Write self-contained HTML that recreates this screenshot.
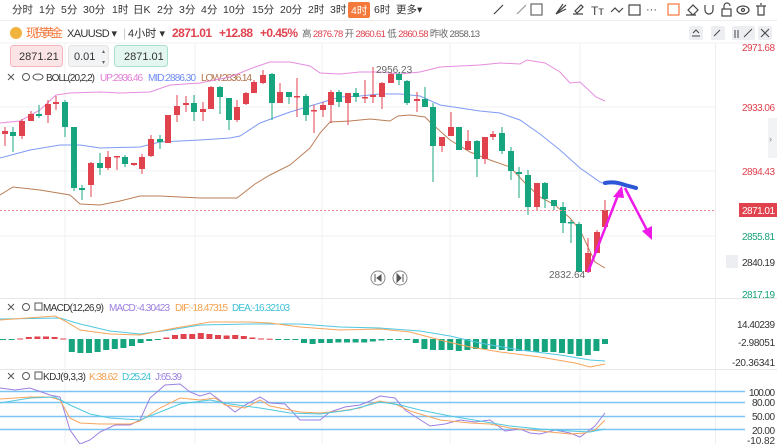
<!DOCTYPE html>
<html><head><meta charset="utf-8"><style>
*{margin:0;padding:0;box-sizing:border-box}
body{width:777px;height:444px;overflow:hidden;background:#fff;font-family:"Liberation Sans","Noto Sans CJK SC",sans-serif;position:relative}
</style></head><body>
<svg width="777" height="444" style="position:absolute;left:0;top:0" font-family="Liberation Sans, Noto Sans CJK SC, sans-serif">
<line x1="0" y1="20.5" x2="777" y2="20.5" stroke="#eee"/>
<g font-size="10.5" fill="#333">
<text x="12" y="13">分时</text><text x="39" y="13">1分</text><text x="61" y="13">5分</text><text x="83" y="13">30分</text><text x="112" y="13">1时</text><text x="133" y="13">日K</text><text x="157" y="13">2分</text><text x="179" y="13">3分</text><text x="201" y="13">4分</text><text x="223" y="13">10分</text><text x="252" y="13">15分</text><text x="280" y="13">20分</text><text x="308" y="13">2时</text><text x="330" y="13">3时</text>
<rect x="348" y="2" width="22" height="16" rx="2" fill="#f5793b"/><text x="351" y="14" fill="#fff">4时</text>
<text x="374" y="13">6时</text><text x="396" y="13">更多▾</text>
</g>
<g stroke="#444" fill="none" stroke-width="1.2">
<line x1="494" y1="14" x2="503" y2="5"/><line x1="517" y1="14" x2="526" y2="5" stroke="#999"/>
<rect x="531" y="4" width="11" height="11" stroke="#666"/>
<path d="M556 14 L566 5 M556 14 L566 9 M556 14 L563 4"/>
<path d="M573 14 h10 M575 11 l6 -6 2 2 -6 6z"/>
<text x="591" y="15" font-size="12" fill="#444" stroke="none">Tт</text>
<path d="M611 12 l4 -4 4 4 4 -4"/>
<rect x="629" y="5" width="11" height="10"/>
<text x="646" y="13" font-size="11" fill="#444" stroke="none">···</text>
<rect x="668" y="4" width="11" height="11" stroke="#f5793b"/>
<path d="M688 10 l5 -5 5 5 -5 5z M686 15 h10"/>
<path d="M705 5 v5 a4 4 0 0 0 8 0 v-5"/>
<rect x="722" y="9" width="9" height="7"/><path d="M724 9 v-3 a3 3 0 0 1 6 0"/>
<ellipse cx="743" cy="10" rx="6" ry="4"/><circle cx="743" cy="10" r="1.5"/>
<path d="M756 6 h10 M758 6 v9 h6 v-9 M760 4 h2"/>
</g>
<circle cx="16" cy="33" r="6" fill="#f2b33d"/>
<text x="26" y="37" font-size="12" fill="#f5793b" textLength="37">现货黄金</text>
<text x="67" y="37" font-size="11" fill="#333" textLength="50">XAUUSD ▾</text>
<text x="123" y="37" font-size="12" fill="#ccc">|</text>
<text x="128" y="37" font-size="11" fill="#333" textLength="37">4小时 ▾</text>
<text x="172" y="37" font-size="12" font-weight="bold" fill="#e0424e" textLength="40">2871.01</text>
<text x="219" y="37" font-size="12" font-weight="bold" fill="#e0424e" textLength="34">+12.88</text>
<text x="260" y="37" font-size="12" font-weight="bold" fill="#e0424e" textLength="38">+0.45%</text>
<text x="302" y="37" font-size="9.5" fill="#666" textLength="178">高 <tspan fill="#e0424e">2876.78</tspan> 开 <tspan fill="#e0424e">2860.61</tspan> 低 <tspan fill="#e0424e">2860.58</tspan> 昨收 2858.13</text>
<g fill="#eceef1"><rect x="689" y="26" width="14" height="14" rx="2"/><rect x="711" y="26" width="14" height="14" rx="2"/><rect x="732" y="26" width="14" height="14" rx="2"/><rect x="741" y="26" width="14" height="14" rx="2"/><rect x="758" y="26" width="14" height="14" rx="2"/></g>
<g stroke="#444" fill="none"><path d="M692 36 h8 M693 33 l3 -3 3 3"/><path d="M714 36 l6 -6"/><path d="M735 30 v8 M738 30 v8"/><path d="M744 37 l8 -8"/><path d="M761 29 l8 8 M769 29 l-8 8"/></g>
<rect x="10.5" y="45.5" width="52" height="21" rx="3" fill="#fbe4e6" stroke="#f3b7bd"/>
<text x="19" y="60" font-size="11" fill="#333">2871.21</text>
<rect x="68.5" y="45.5" width="40" height="21" rx="3" fill="#f2f3f5" stroke="#e3e3e3"/>
<text x="74" y="60" font-size="11" fill="#333">0.01</text><text x="102" y="53" font-size="6" fill="#666">▴</text><text x="102" y="64" font-size="6" fill="#666">▾</text>
<rect x="114.5" y="45.5" width="53" height="21" rx="3" fill="#e3f6ef" stroke="#a8e0c9"/>
<text x="124" y="60" font-size="11" fill="#333">2871.01</text>
<g stroke="#f0f0f0">
<line x1="65" y1="43" x2="65" y2="444"/><line x1="195" y1="43" x2="195" y2="444"/><line x1="322" y1="43" x2="322" y2="444"/><line x1="450" y1="43" x2="450" y2="444"/><line x1="580" y1="43" x2="580" y2="444"/>
<line x1="0" y1="107" x2="715" y2="107"/><line x1="0" y1="171" x2="715" y2="171"/><line x1="0" y1="236" x2="715" y2="236"/>
<line x1="0" y1="43" x2="777" y2="43"/>
</g>
<line x1="0" y1="298.5" x2="777" y2="298.5" stroke="#e6e6e6"/>
<line x1="0" y1="369.5" x2="777" y2="369.5" stroke="#e6e6e6"/>
<line x1="715.5" y1="43" x2="715.5" y2="444" stroke="#eee"/>
<g stroke="#555" fill="none"><path d="M8 74 l6 6 M14 74 l-6 6"/><circle cx="26" cy="77" r="3.5"/><ellipse cx="38" cy="77" rx="5" ry="3"/></g>
<g font-size="10">
<text x="46" y="81" fill="#333" textLength="49">BOLL(20,2,2)</text>
<text x="100" y="81" fill="#e07ed8" textLength="43">UP:2936.46</text>
<text x="148" y="81" fill="#6f8cf5" textLength="48">MID:2886.30</text>
<text x="201" y="81" fill="#b27049" textLength="51">LOW:2836.14</text>
</g>
<polyline fill="none" stroke="#e58ddf" points="0,123 20,121 40,110 56,95 70,93 100,92 120,93 150,92 170,85 200,83 230,77 255,67 270,62 290,62 310,66 320,73 340,74 360,72 380,72 400,74 420,72 440,67 460,66 480,65 500,63 520,64 527,60 545,63 560,72 570,83 580,82 596,97 605,101"/>
<polyline fill="none" stroke="#7f9af5" points="0,158 30,150 60,145 80,145 100,148 140,147 160,142 200,140 230,138 240,136 260,123 290,112 310,106 320,103 340,97 360,96 380,94 400,94 420,96 440,105 480,111 500,113 520,120 540,134 560,150 580,168 600,182 605,184"/>
<polyline fill="none" stroke="#bb7e58" points="0,195 13,187 40,190 70,195 80,204 100,205 120,201 140,196 160,196 200,198 237,198 255,184 270,175 290,165 310,148 320,133 330,122 350,121 370,119 390,121 398,116 410,115 425,117 430,122 450,140 470,152 490,160 510,167 525,183 540,197 555,205 570,218 580,230 595,262 605,268"/>
<g id="candles"></g>
<text x="376" y="73" font-size="10" fill="#666">2956.23</text>
<text x="549" y="278" font-size="10" fill="#666">2832.64</text>
<line x1="0" y1="210.5" x2="715" y2="210.5" stroke="#f08a90" stroke-dasharray="2,2"/>
<path d="M605 183 Q615 181 625 185 L636 188" stroke="#2d56d6" stroke-width="4" fill="none" stroke-linecap="round"/>
<path d="M588 272 L620 190 M625 188 L650 236" stroke="#ee1be8" stroke-width="2.5" fill="none"/>
<path d="M622 186 L613 197 L624 198z M652 240 L642 231 L652 226z" fill="#ee1be8"/>
<g stroke="#888" fill="#fff"><circle cx="378" cy="278" r="7"/><circle cx="400" cy="278" r="7"/></g>
<path d="M375 274 v8 M377 278 l4 -3 v6z M397 274 l4 4 -4 4z M403 274 v8" stroke="#555" fill="#555"/>
<g font-size="10" text-anchor="end">
<text x="775" y="51" fill="#e0424e" textLength="33">2971.68</text>
<text x="775" y="111" fill="#e0424e" textLength="33">2933.06</text>
<text x="775" y="175" fill="#e0424e" textLength="33">2894.43</text>
<rect x="739" y="203" width="38" height="14" fill="#e0424e"/><text x="775" y="214" fill="#fff" textLength="33">2871.01</text>
<text x="775" y="240" fill="#19a27b" textLength="33">2855.81</text>
<rect x="726" y="255" width="12" height="13" fill="#eceef1"/><text x="775" y="266" fill="#333" textLength="33">2840.19</text>
<text x="775" y="298" fill="#19a27b" textLength="33">2817.19</text>
<text x="775" y="328" fill="#333" textLength="38">14.40239</text>
<text x="775" y="346" fill="#333" textLength="37">-2.98051</text>
<text x="775" y="366" fill="#333" textLength="43">-20.36341</text>
<text x="775" y="396" fill="#333" textLength="26">100.00</text>
<text x="775" y="406" fill="#333" textLength="23">80.00</text>
<text x="775" y="420" fill="#333" textLength="23">50.00</text>
<text x="775" y="434" fill="#333" textLength="23">20.00</text>
<text x="775" y="444" fill="#333" textLength="28">-10.82</text>
</g>
<rect x="768" y="118" width="9" height="40" fill="#f2f3f5"/><text x="769" y="142" font-size="9" fill="#888">›</text>
<g stroke="#555" fill="none"><path d="M8 304 l6 6 M14 304 l-6 6"/><circle cx="26" cy="307" r="3.5"/><rect x="35" y="303" width="7" height="7"/></g>
<g font-size="10">
<text x="43" y="311" fill="#333" textLength="61">MACD(12,26,9)</text>
<text x="109" y="311" fill="#9b7fe0" textLength="61">MACD:-4.30423</text>
<text x="175" y="311" fill="#f5a04e" textLength="53">DIF:-18.47315</text>
<text x="232" y="311" fill="#3ec1d6" textLength="58">DEA:-16.32103</text>
</g>
<g id="hist"></g>
<polyline fill="none" stroke="#4fc8e0" points="0,319 60,318 80,324 110,331 140,334 170,330 200,325 250,324 300,324 340,327 380,328 420,331 450,336 480,343 520,350 560,355 590,360 605,361"/>
<polyline fill="none" stroke="#f7a55c" points="0,320 55,316 65,321 80,330 110,334 140,335 170,329 210,322 250,322 270,323 300,327 340,330 380,329 410,332 440,340 470,347 500,352 540,357 575,363 590,367 605,364"/>
<g stroke="#555" fill="none"><path d="M8 373 l6 6 M14 373 l-6 6"/><circle cx="26" cy="376" r="3.5"/><rect x="35" y="372" width="7" height="7"/></g>
<g font-size="10">
<text x="43" y="380" fill="#333" textLength="43">KDJ(9,3,3)</text>
<text x="89" y="380" fill="#f5a04e" textLength="29">K:38.62</text>
<text x="122" y="380" fill="#3ec1d6" textLength="29">D:25.24</text>
<text x="155" y="380" fill="#9b7fe0" textLength="27">J:65.39</text>
</g>
<g stroke="#7cc4f2" stroke-width="1.5"><line x1="0" y1="391.5" x2="745" y2="391.5"/><line x1="0" y1="402.5" x2="745" y2="402.5"/><line x1="0" y1="416.5" x2="745" y2="416.5"/><line x1="0" y1="429.5" x2="745" y2="429.5"/></g>
<polyline fill="none" stroke="#9b7fe0" points="0,388 15,390 30,388 50,395 60,397 70,430 80,444 90,440 100,432 115,425 130,425 140,420 150,398 165,385 180,384 190,392 200,396 210,393 225,404 235,412 245,405 260,397 270,403 285,404 300,420 320,420 330,412 345,407 360,405 370,401 380,396 395,398 405,410 430,426 445,424 460,420 475,422 490,420 505,431 520,429 530,433 540,434 555,430 570,433 580,437 595,426 605,413"/>
<polyline fill="none" stroke="#f7a55c" points="0,399 30,397 50,397 60,400 70,418 80,423 100,424 130,424 140,421 160,408 180,398 200,400 215,398 225,405 245,408 260,400 270,406 300,412 320,413 340,411 360,408 370,404 380,401 395,404 410,411 440,420 470,423 490,424 510,428 540,431 570,434 585,433 595,430 605,420"/>
<polyline fill="none" stroke="#4fc8e0" points="0,403 30,398 55,397 70,405 90,414 110,418 140,420 160,412 180,404 210,400 230,404 260,408 290,413 320,414 350,410 380,402 400,405 420,410 450,416 480,421 510,426 540,429 570,431 590,432 605,429"/>
</svg>
<script>
const R='#e0424e',G='#17a57f';
const c=[[5,R,131,134,127,146],[13,G,132,136,127,152],[22,R,121,136,119,139],[31,R,114,121,111,121],[39,G,114,116,105,118],[48,R,104,115,100,123],[56,R,102,104,96,110],[65,G,102,127,100,137],[74,G,127,188,127,191],[82,G,188,190,185,200],[91,R,163,185,162,197],[100,G,163,168,153,175],[108,R,157,168,151,170],[117,R,156,157,156,170],[125,G,157,164,155,167],[134,R,163,165,163,166],[142,R,157,169,154,174],[151,R,139,156,135,157],[160,G,139,142,135,149],[168,R,115,143,115,143],[177,R,106,115,95,122],[186,R,103,105,96,112],[194,G,103,112,95,121],[203,R,109,112,102,121],[211,R,87,109,86,109],[220,G,87,97,86,114],[229,G,98,120,98,130],[237,R,107,120,100,122],[246,R,93,104,92,105],[254,R,82,93,80,93],[263,R,75,83,70,84],[272,G,74,103,73,120],[280,R,92,103,83,103],[289,G,92,97,92,104],[297,R,96,97,78,117],[306,G,96,115,94,121],[314,R,110,111,105,133],[323,R,105,110,102,117],[331,R,92,105,90,123],[339,G,92,102,90,107],[348,R,93,103,93,125],[356,G,93,97,88,102],[365,R,97,98,80,103],[373,R,95,97,67,103],[382,R,83,97,82,109],[391,R,74,83,72,83],[399,G,74,80,72,85],[407,G,81,103,80,105],[417,R,99,101,92,112],[425,G,99,107,87,107],[433,G,107,146,103,182],[442,R,137,146,137,152],[451,R,127,136,112,136],[459,G,127,150,127,150],[468,R,141,150,130,150],[477,G,141,159,140,177],[485,R,137,159,137,164],[493,R,134,137,131,140],[502,G,133,151,127,154],[511,G,151,171,147,180],[519,G,172,174,167,198],[528,G,175,207,170,215],[537,R,183,207,183,210],[545,G,183,199,182,208],[554,G,200,206,200,210],[563,G,207,223,202,233],[571,G,222,223,220,243],[579,G,224,272,222,272],[588,R,253,272,238,273],[597,R,232,253,230,253],[605,R,210,227,200,227]];
let s='';for(const[x,col,t,b,wt,wb]of c){s+=`<line x1="${x}" y1="${wt}" x2="${x}" y2="${wb}" stroke="${col}"/><rect x="${x-3}" y="${t}" width="6" height="${Math.max(1.5,b-t)}" fill="${col}"/>`;}
document.getElementById('candles').innerHTML=s;
const hv=[-0.5,-0.5,0.5,2,2.5,2.5,2,0.5,-13,-14,-14,-13,-11,-10,-9,-7,-4,-2,-1,1.5,4,5,5,6,5,4,3.5,4,3,1.5,0.5,0.3,-0.3,-0.5,-0.5,-4,-5,-4,-4,-3.5,-3.5,-3.5,-3.5,-2.5,-1.5,-0.3,-0.3,-1,-4,-10,-11,-11,-11,-12,-11,-10,-10,-10,-11,-12,-12,-12,-13,-13,-13,-14,-15,-17,-16,-12,-5];
let h='';hv.forEach((v,i)=>{const x=3+8.6*i;if(x>610)return;const col=v>0?R:G;const y=v>0?339-v:339;h+=`<rect x="${x-3}" y="${y}" width="6" height="${Math.max(1,Math.abs(v))}" fill="${col}"/>`;});
document.getElementById('hist').innerHTML=h;
</script>
</body></html>
